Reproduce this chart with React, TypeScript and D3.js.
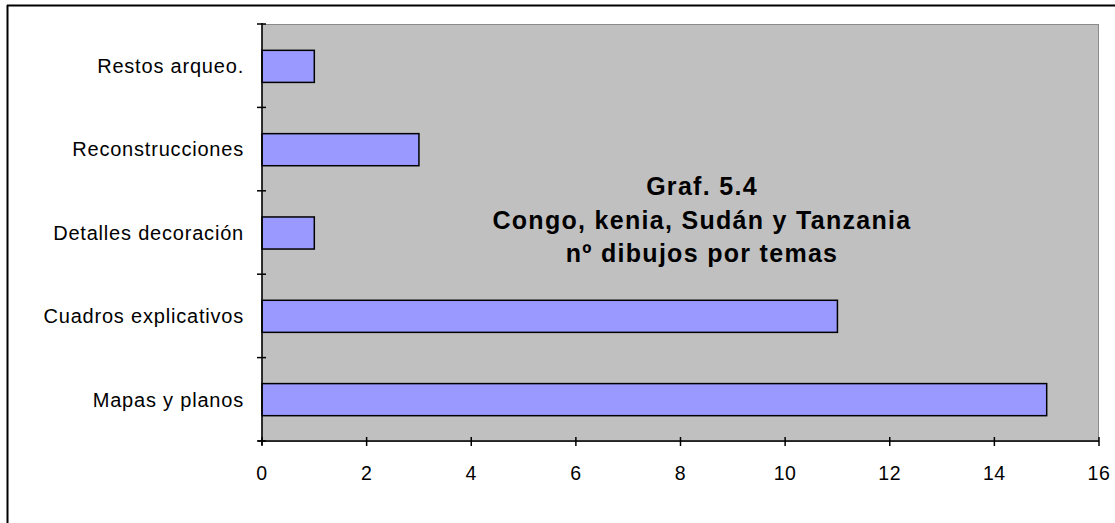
import React, { useEffect, useRef } from "react";
import * as d3 from "d3";

const categories = [
  "Restos arqueo.",
  "Reconstrucciones",
  "Detalles decoración",
  "Cuadros explicativos",
  "Mapas y planos",
];
const values = [1, 3, 1, 11, 15];
const xTicks = [0, 2, 4, 6, 8, 10, 12, 14, 16];
const titleLines = ["Graf. 5.4", "Congo, kenia, Sudán y Tanzania", "nº dibujos por temas"];

const App = () => {
  const ref = useRef<SVGSVGElement>(null);

  useEffect(() => {
    document.body.style.margin = "0";
    const svg = d3.select(ref.current);
    svg.selectAll("*").remove();

    const width = 1115;
    const height = 523;
    const plot = { left: 262, right: 1099, top: 24, bottom: 441 };
    const font = "Liberation Sans, Arial, sans-serif";

    svg.append("rect").attr("width", width).attr("height", height).attr("fill", "#fff");

    // outer frame (left and top edges visible)
    svg.append("line").attr("x1", 7.5).attr("x2", 7.5).attr("y1", 5).attr("y2", height)
      .attr("stroke", "#000").attr("stroke-width", 2);
    svg.append("line").attr("x1", 7).attr("x2", width).attr("y1", 5.5).attr("y2", 5.5)
      .attr("stroke", "#000").attr("stroke-width", 2);

    const x = d3.scaleLinear().domain([0, 16]).range([plot.left, plot.right]);
    const y = d3.scaleBand().domain(categories).range([plot.top, plot.bottom]).paddingInner(0.615).paddingOuter(0.31);
    const yb = d3.scaleBand().domain(categories).range([plot.top, plot.bottom]);

    svg.append("rect")
      .attr("x", plot.left).attr("y", plot.top + 0.5)
      .attr("width", plot.right - plot.left - 0.5).attr("height", plot.bottom - plot.top)
      .attr("fill", "#c0c0c0").attr("stroke", "#8a8a8a").attr("stroke-width", 1);

    svg.selectAll(".bar")
      .data(values)
      .enter()
      .append("rect")
      .attr("x", x(0))
      .attr("y", (d, i) => y(categories[i])! + 0.5)
      .attr("width", d => x(d) - x(0))
      .attr("height", y.bandwidth())
      .attr("fill", "#9999ff")
      .attr("stroke", "#000")
      .attr("stroke-width", 1.5);

    // x axis
    const gx = svg.append("g").attr("transform", `translate(0,${plot.bottom})`);
    gx.append("line").attr("x1", plot.left - 4).attr("x2", plot.right).attr("stroke", "#000").attr("stroke-width", 1.5);
    gx.selectAll(".tick").data(xTicks).enter().append("line")
      .attr("x1", d => x(d)).attr("x2", d => x(d)).attr("y1", -4).attr("y2", 5)
      .attr("stroke", "#000").attr("stroke-width", 1.5);
    gx.selectAll(".lbl").data(xTicks).enter().append("text")
      .attr("x", d => x(d)).attr("y", 39)
      .attr("text-anchor", "middle")
      .attr("font-family", font).attr("font-size", 19.5)
      .attr("letter-spacing", 0.6)
      .attr("fill", "#000")
      .text(d => d);

    // y axis
    const gy = svg.append("g").attr("transform", `translate(${plot.left},0)`);
    gy.append("line").attr("y1", plot.top - 1).attr("y2", plot.bottom + 4).attr("stroke", "#000").attr("stroke-width", 1.5);
    const yTickPos = categories.map(c => yb(c)!).concat([plot.bottom]);
    gy.selectAll(".tick").data(yTickPos).enter().append("line")
      .attr("x1", -5).attr("x2", 4).attr("y1", d => d).attr("y2", d => d)
      .attr("stroke", "#000").attr("stroke-width", 1.5);
    gy.selectAll(".lbl").data(categories).enter().append("text")
      .attr("x", -18).attr("y", d => yb(d)! + yb.bandwidth() / 2)
      .attr("dy", "0.36em")
      .attr("text-anchor", "end")
      .attr("font-family", font).attr("font-size", 20)
      .attr("letter-spacing", 0.8)
      .attr("fill", "#000")
      .text(d => d);

    // title
    svg.selectAll(".title").data(titleLines).enter().append("text")
      .attr("x", 702).attr("y", (d, i) => 195 + i * 33.5)
      .attr("text-anchor", "middle")
      .attr("font-family", font).attr("font-weight", "bold").attr("font-size", 25)
      .attr("letter-spacing", 1.3)
      .attr("fill", "#000")
      .text(d => d);
  }, []);

  return <svg ref={ref} width={1115} height={523} style={{ display: "block" }}></svg>;
};

export default App;
